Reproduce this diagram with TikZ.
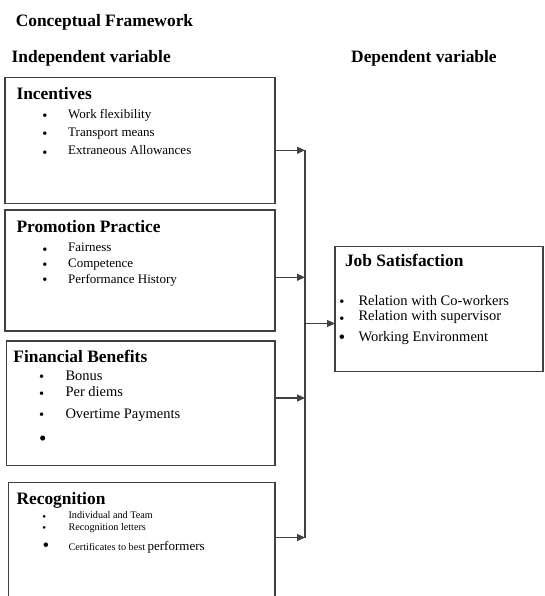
\documentclass[tikz,border=0pt]{standalone}
\usepackage{fontspec}
\setmainfont{Liberation Serif}
\usetikzlibrary{arrows.meta}

\begin{document}
\begin{tikzpicture}[x=1pt, y=-1pt,%
	box/.style={draw=black!75, line width=1.2pt, inner sep=0pt, outer sep=0pt, anchor=north west},
	head/.style={anchor=base west, inner sep=0pt, font=\fontsize{17.4}{20}\selectfont\bfseries},
	item/.style={anchor=base west, inner sep=0pt, font=\fontsize{13}{15}\selectfont},
	bigitem/.style={item, font=\fontsize{14.5}{16}\selectfont},
	smallitem/.style={item, font=\fontsize{10.2}{12}\selectfont},
	dot/.style={anchor=base, inner sep=0pt, font=\fontsize{#1}{#1}\selectfont},
	dot/.default=14.5,
	line/.style={draw=black!75, line width=1.2pt},
	arr/.style={line, -{Triangle[length=8pt, width=7pt]}}]
	\useasboundingbox (0,0) rectangle (544,596);

	\node[head] (title) at (15.6,26.7) {Conceptual Framework};
	\node[head] (indep) at (11.5,62.7) {Independent variable};
	\node[head] (dep) at (351,62.7) {Dependent variable};

	% boxes
	\node[box, minimum width=270pt, minimum height=125.6pt] (inc) at (5,77.7) {};
	\node[box, minimum width=270pt, minimum height=121pt] (pro) at (5,210) {};
	\node[box, minimum width=268.8pt, minimum height=124.7pt] (fin) at (6.2,341) {};
	\node[box, minimum width=266.3pt, minimum height=125pt] (rec) at (8.7,482.3) {};
	\node[box, minimum width=208pt, minimum height=125pt] (job) at (335,246.7) {};

	% Incentives
	\node[head] (inchead) at (16.3,99.3) {Incentives};
	\foreach \n/\y/\c/\t in {1/118.3/115/Work flexibility, 2/136.7/133.3/Transport means, 3/155/152.3/Extraneous Allowances} {
		\node[dot] (incdot\n) at (45,\c+5.2) {•};
		\node[item] (inc\n) at (68,\y) {\t};
	}

	% Promotion Practice
	\node[head] (prohead) at (16.3,232.3) {Promotion Practice};
	\foreach \n/\y/\c/\t in {1/251.7/249.3/Fairness, 2/267.7/264/Competence, 3/283.3/279.3/Performance History} {
		\node[dot] (prodot\n) at (45,\c+5.2) {•};
		\node[item] (pro\n) at (68,\y) {\t};
	}

	% Financial Benefits
	\node[head] (finhead) at (13.2,362.3) {Financial Benefits};
	\foreach \n/\y/\c/\t in {1/380/376/Bonus, 2/396.5/393.3/Per diems, 3/418.5/414/Overtime Payments} {
		\node[dot] (findot\n) at (41.7,\c+5.2) {•};
		\node[bigitem] (fin\n) at (65.3,\y) {\t};
	}
	\node[dot=21] (findot4) at (42.7,438+7.6) {•};

	% Recognition
	\node[head] (rechead) at (16.3,504) {Recognition};
	\node[dot=11] (recdot1) at (44.4,516+4) {•};
	\node[smallitem] (rec1) at (68.4,518.3) {Individual and Team};
	\node[dot=11] (recdot2) at (44.4,527.7+4) {•};
	\node[smallitem] (rec2) at (68.4,530) {Recognition letters};
	\node[dot=19] (recdot3) at (46,545+6.8) {•};
	\node[smallitem] (rec3) at (68.4,550) {Certificates to best {\fontsize{13}{15}\selectfont performers}};

	% Job Satisfaction
	\node[head] (jobhead) at (344.8,266.7) {Job Satisfaction};
	\node[dot] (jobdot1) at (342,301+5.2) {•};
	\node[bigitem] (job1) at (358.3,305.3) {Relation with Co-workers};
	\node[dot] (jobdot2) at (342,318.5+5.2) {•};
	\node[bigitem] (job2) at (358.3,320) {Relation with supervisor};
	\node[dot=19] (jobdot3) at (342,337+6.8) {•};
	\node[bigitem] (job3) at (358.3,341.7) {Working Environment};

	% connectors
	\coordinate (b1) at (305,150.3);
	\coordinate (b2) at (305,277.3);
	\coordinate (b3) at (305,398);
	\coordinate (b4) at (305,537.5);
	\coordinate (bj) at (305,323.5);
	\draw[arr] (inc.east |- b1) -- (b1);
	\draw[arr] (pro.east |- b2) -- (b2);
	\draw[arr] (fin.east |- b3) -- (b3);
	\draw[arr] (rec.east |- b4) -- (b4);
	\draw[line] (b1) -- (b4);
	\draw[arr] (bj) -- (job.west |- bj);
\end{tikzpicture}
\end{document}
